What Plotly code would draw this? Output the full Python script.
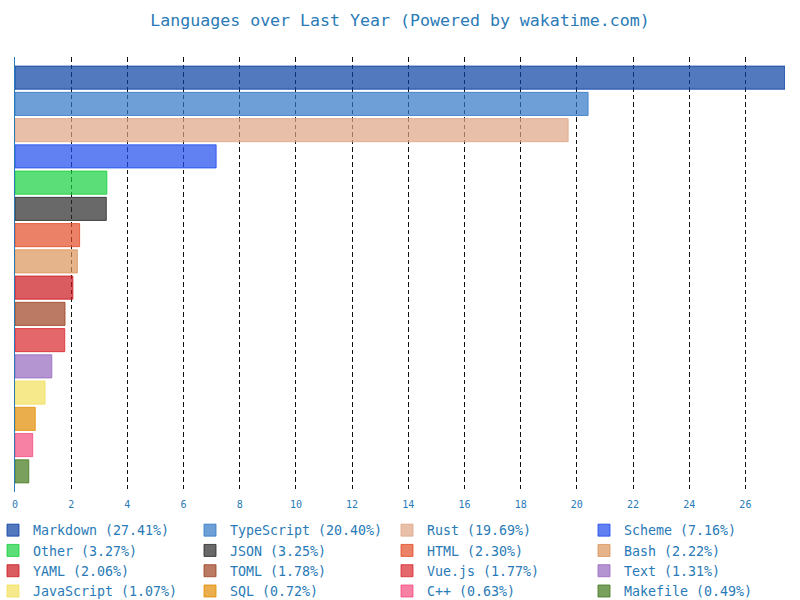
"""
Horizontal bar chart of coding languages over the last year (wakatime).
One trace per language so every bar gets its own legend entry.
"""

import plotly.graph_objects as go

TEXT_BLUE = "#297ab6"
MONO = "DejaVu Sans Mono, monospace"

languages = [
    "Markdown", "TypeScript", "Rust", "Scheme",
    "Other", "JSON", "HTML", "Bash",
    "YAML", "TOML", "Vue.js", "Text",
    "JavaScript", "SQL", "C++", "Makefile",
]
percents = [
    27.41, 20.40, 19.69, 7.16,
    3.27, 3.25, 2.30, 2.22,
    2.06, 1.78, 1.77, 1.31,
    1.07, 0.72, 0.63, 0.49,
]
base_colors = [
    "#083fa1", "#3178c6", "#dea584", "#1e4aec",
    "#15d03d", "#292929", "#e34c26", "#da9458",
    "#cb171e", "#9c4221", "#d9262c", "#9467bd",
    "#f1e05a", "#e38c00", "#f34b7d", "#427819",
]
xticks = list(range(0, 28, 2))


def rgba(hex_color: str, alpha: float) -> str:
    h = hex_color.lstrip("#")
    r, g, b = (int(h[i:i + 2], 16) for i in (0, 2, 4))
    return f"rgba({r},{g},{b},{alpha})"


fig = go.Figure()
for lang, pct, col in zip(languages, percents, base_colors):
    fig.add_bar(
        x=[pct], y=[lang], orientation="h", width=0.88,
        name=f"{lang} ({pct:.2f}%)",
        marker=dict(color=rgba(col, 0.7), line=dict(color=rgba(col, 0.8), width=1)),
    )

n = len(languages)
plot_w, plot_h = 800 - 30, 600 - 57 - 108
fig.update_layout(
    width=800, height=600,
    paper_bgcolor="white", plot_bgcolor="white",
    barmode="overlay",
    margin=dict(l=15, r=15, t=57, b=108, autoexpand=False),
    title=dict(text="Languages over Last Year (Powered by wakatime.com)",
               font=dict(family=MONO, size=16.6, color=TEXT_BLUE),
               x=0.5, xanchor="center", y=1 - 20 / 600, yanchor="middle"),
    xaxis=dict(range=[0, max(percents)], tickvals=xticks, ticks="",
               ticklabelstandoff=5,
               tickfont=dict(family=MONO, size=10, color=TEXT_BLUE),
               showgrid=True, gridcolor="#111111", griddash="4.5px,3px", gridwidth=1,
               zeroline=False, showline=False),
    yaxis=dict(type="category", categoryorder="array", categoryarray=languages,
               range=[n - 1 + 0.787, -0.787], showticklabels=False, ticks="",
               showgrid=False, zeroline=False,
               showline=True, linecolor=TEXT_BLUE, linewidth=1),
    # legend sits below the plot, 4 entries per row like the original
    legend=dict(orientation="h",
                x=-22 / plot_w, xanchor="left", y=-23 / plot_h, yanchor="top",
                entrywidth=152, entrywidthmode="pixels",
                font=dict(family=MONO, size=13.3, color=TEXT_BLUE),
                traceorder="normal"),
    showlegend=True,
)

# the page's default body margin would push the whole figure 8px in
fig.write_html("out.html", config={"displayModeBar": False},
               post_script="document.body.style.margin='0';")
